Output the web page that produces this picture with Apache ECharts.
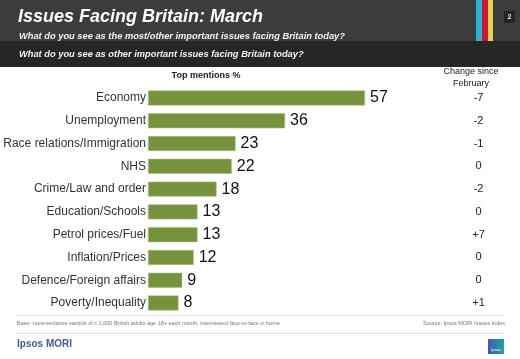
<!DOCTYPE html>
<html><head><meta charset="utf-8">
<script src="https://cdn.jsdelivr.net/npm/echarts@6/dist/echarts.min.js"></script>
<style>html,body{margin:0;padding:0;background:#fff}#c{width:520px;height:359px}</style>
</head><body><div id="c"></div>
<script>
const categories = ["Economy","Unemployment","Race relations/Immigration","NHS","Crime/Law and order","Education/Schools","Petrol prices/Fuel","Inflation/Prices","Defence/Foreign affairs","Poverty/Inequality"];
const topMentions = [57,36,23,22,18,13,13,12,9,8];
const changeSinceFeb = ["-7","-2","-1","0","-2","0","+7","0","0","+1"];

const F = "Liberation Sans, Arial, sans-serif";
const chart = echarts.init(document.getElementById('c'), null, {renderer:'canvas'});
chart.setOption({
  animation:false,
  backgroundColor:'#ffffff',
  grid:{left:148, top:86.6, width:304.6, height:227.8},
  xAxis:{type:'value', min:0, max:80, show:false},
  yAxis:[
    {type:'category', data:categories, inverse:true,
     axisLine:{show:false}, axisTick:{show:false},
     axisLabel:{fontFamily:F, fontSize:12, color:'#333', margin:2}},
    {type:'category', data:categories, inverse:true, position:'right',
     axisLine:{show:false}, axisTick:{show:false},
     axisLabel:{fontFamily:F, fontSize:11, color:'#222', margin:26, align:'center',
       formatter:(v,i)=>changeSinceFeb[i]}}
  ],
  series:[{
    type:'bar', data:topMentions, yAxisIndex:0, barCategoryGap:'34%',
    itemStyle:{color:'#76923c', borderColor:'#a9bf7a', borderWidth:0.6},
    label:{show:true, position:'right', distance:5, fontFamily:F, fontSize:16, color:'#111'}
  }],
  graphic:[
    {type:'rect', shape:{x:0,y:0,width:520,height:41}, style:{fill:'#3c3c3c'}, silent:true},
    {type:'rect', shape:{x:0,y:41,width:520,height:26}, style:{fill:'#262626'}, silent:true},
    {type:'rect', shape:{x:476,y:0,width:6,height:41}, style:{fill:'#2ab4d4'}},
    {type:'rect', shape:{x:482,y:0,width:6,height:41}, style:{fill:'#d0143c'}},
    {type:'rect', shape:{x:488,y:0,width:5,height:41}, style:{fill:'#e8d24a'}},
    {type:'rect', shape:{x:504,y:11,width:11,height:12}, style:{fill:'#232323'}},
    {type:'text', x:509.5, y:17, style:{text:'2', fill:'#eee', font:'bold 7px '+F, align:'center', verticalAlign:'middle'}},
    {type:'text', x:18, y:17, style:{text:'Issues Facing Britain: March', fill:'#ffffff', font:'italic bold 18px '+F, verticalAlign:'middle'}},
    {type:'text', x:19, y:36, style:{text:'What do you see as the most/other important issues facing Britain today?', fill:'#f2f2f2', font:'italic bold 9.3px '+F, verticalAlign:'middle'}},
    {type:'text', x:19, y:54, style:{text:'What do you see as other important issues facing Britain today?', fill:'#f2f2f2', font:'italic bold 9.3px '+F, verticalAlign:'middle'}},
    {type:'text', x:206, y:76, style:{text:'Top mentions %', fill:'#222', font:'bold 9px '+F, align:'center', verticalAlign:'middle'}},
    {type:'text', x:471, y:71.5, style:{text:'Change since', fill:'#222', font:'9px '+F, align:'center', verticalAlign:'middle'}},
    {type:'text', x:471, y:83.5, style:{text:'February', fill:'#222', font:'9px '+F, align:'center', verticalAlign:'middle'}},
    {type:'line', shape:{x1:17,y1:315.5,x2:505,y2:315.5}, style:{stroke:'#c8c8c8', lineWidth:1, lineDash:[1,1]}},
    {type:'text', x:17, y:323, style:{text:'Base: representative sample of c.1,000 British adults age 18+ each month, interviewed face-to-face in home', fill:'#777', font:'5.5px '+F, verticalAlign:'middle'}},
    {type:'text', x:505, y:323, style:{text:'Source: Ipsos MORI Issues Index', fill:'#777', font:'5.5px '+F, align:'right', verticalAlign:'middle'}},
    {type:'line', shape:{x1:17,y1:333.5,x2:505,y2:333.5}, style:{stroke:'#c8c8c8', lineWidth:1, lineDash:[1,1]}},
    {type:'text', x:17, y:344, style:{text:'Ipsos MORI', fill:'#4b5a92', font:'bold 10px '+F, verticalAlign:'middle'}},
    {type:'rect', shape:{x:488,y:339,width:16,height:15}, style:{fill:new echarts.graphic.LinearGradient(0,0,1,0,[{offset:0,color:'#4a52b0'},{offset:1,color:'#1aa8a0'}])}},
    {type:'text', x:496, y:350, style:{text:'Ipsos', fill:'#fff', font:'4px '+F, align:'center', verticalAlign:'middle'}}
  ]
});
</script></body></html>
